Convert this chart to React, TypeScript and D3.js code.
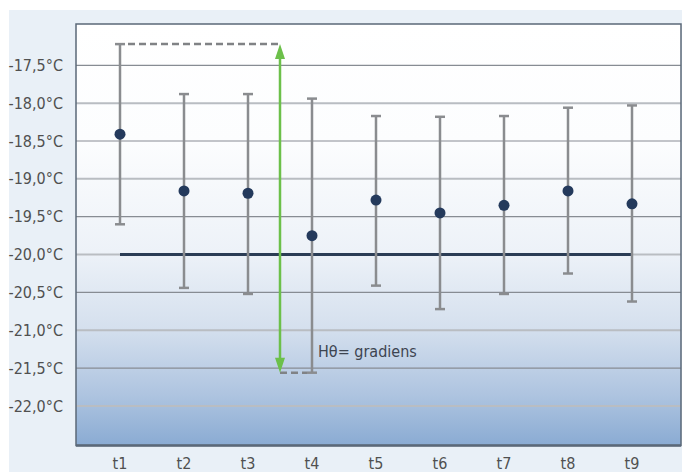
import React from 'react';
import * as d3 from 'd3';

const categories = ['t1', 't2', 't3', 't4', 't5', 't6', 't7', 't8', 't9'];
const means = [-18.41, -19.16, -19.19, -19.75, -19.28, -19.45, -19.35, -19.16, -19.33];
const upper = [-17.22, -17.88, -17.88, -17.94, -18.17, -18.18, -18.17, -18.06, -18.03];
const lower = [-19.6, -20.44, -20.52, -21.56, -20.41, -20.72, -20.52, -20.25, -20.62];
const yTicks = [-17.5, -18.0, -18.5, -19.0, -19.5, -20.0, -20.5, -21.0, -21.5, -22.0];
const refValue = -20.0;
const annotationText = 'Hθ= gradiens';

const W = 682;
const H = 472;
const plot = { left: 76, right: 681, top: 24, bottom: 445.5 };

const locale = d3.formatLocale({ decimal: ',', thousands: '.', grouping: [3], currency: ['', '€'], minus: '-' });
const fmt = locale.format('.1f');

const FONT = '"Liberation Sans Narrow", "DejaVu Sans Condensed", "Liberation Sans", sans-serif';

export default function App() {
  const y = d3.scaleLinear().domain([-22, -17.5]).range([406, 65.3]);
  const x = d3.scalePoint<string>().domain(categories).range([120, 632]);

  const i1 = 0; // t1 (max upper)
  const i4 = 3; // t4 (min lower)
  const arrowX = 280;
  const yTop = y(upper[i1]);
  const yBot = y(lower[i4]);
  const capW = 5;

  const line = d3.line<[number, number]>();

  return (
    <svg width={W} height={H} style={{ position: 'absolute', left: 0, top: 0, display: 'block' }}>
      <defs>
        <linearGradient id="bg" x1="0" y1="0" x2="0" y2="1">
          <stop offset="0%" stopColor="#ffffff" />
          <stop offset="28%" stopColor="#fcfdfe" />
          <stop offset="54%" stopColor="#edf2f8" />
          <stop offset="72%" stopColor="#d5e0ee" />
          <stop offset="88%" stopColor="#aec4e0" />
          <stop offset="100%" stopColor="#8aabd3" />
        </linearGradient>
      </defs>
      <rect x={9} y={10} width={W - 9} height={H - 10} fill="#e9f0f7" />
      <rect x={plot.left} y={plot.top} width={plot.right - plot.left} height={plot.bottom - plot.top} fill="url(#bg)" />
      {yTicks.map((t) => {
        const isInt = Math.abs(t - Math.round(t)) < 1e-9;
        return (
          <line key={t} x1={plot.left} x2={plot.right} y1={y(t)} y2={y(t)}
            stroke={isInt ? '#b9bdc2' : '#878c93'} strokeWidth={isInt ? 2 : 1.2} />
        );
      })}
      <rect x={plot.left} y={plot.top} width={plot.right - plot.left} height={plot.bottom - plot.top}
        fill="none" stroke="#5b6878" strokeWidth={1.5} />
      <line x1={plot.left} x2={plot.right} y1={plot.bottom} y2={plot.bottom} stroke="#5b6878" strokeWidth={2.5} />
      {yTicks.map((t) => (
        <text key={t} x={63} y={y(t)} dy="0.35em" textAnchor="end" fontFamily={FONT} fontSize={16} fill="#505050">
          {fmt(t) + '°C'}
        </text>
      ))}
      {categories.map((c) => (
        <text key={c} x={x(c)} y={469} textAnchor="middle" fontFamily={FONT} fontSize={16} fill="#505050">{c}</text>
      ))}
      {/* reference line */}
      <path d={line([[x(categories[0])!, y(refValue)], [x(categories[categories.length - 1])!, y(refValue)]]) || ''}
        stroke="#2b3d55" strokeWidth={3} fill="none" />
      {/* error bars */}
      {categories.map((c, i) => {
        const cx = x(c)!;
        return (
          <g key={c} stroke="#8a8c8f" strokeWidth={2.5} fill="none">
            <line x1={cx} x2={cx} y1={y(upper[i])} y2={y(lower[i])} />
            <line x1={cx - capW} x2={cx + capW} y1={y(upper[i])} y2={y(upper[i])} />
            <line x1={cx - capW} x2={cx + capW} y1={y(lower[i])} y2={y(lower[i])} />
          </g>
        );
      })}
      {/* dashed guides */}
      <line x1={x(categories[i1])! + capW + 3} x2={arrowX} y1={yTop} y2={yTop} stroke="#808285" strokeWidth={2.5} strokeDasharray="7 4" />
      <line x1={arrowX} x2={x(categories[i4])! - capW} y1={yBot} y2={yBot} stroke="#808285" strokeWidth={2.5} strokeDasharray="7 4" />
      {/* green arrow */}
      <line x1={arrowX} x2={arrowX} y1={yTop + 12} y2={yBot - 12} stroke="#6cc04a" strokeWidth={2.5} />
      <path d={`M${arrowX},${yTop} L${arrowX - 5},${yTop + 15} L${arrowX + 5},${yTop + 15} Z`} fill="#6cc04a" />
      <path d={`M${arrowX},${yBot} L${arrowX - 5},${yBot - 15} L${arrowX + 5},${yBot - 15} Z`} fill="#6cc04a" />
      {/* means */}
      {categories.map((c, i) => (
        <circle key={c} cx={x(c)} cy={y(means[i])} r={5.5} fill="#243a5c" />
      ))}
      <text x={318} y={357} fontFamily={FONT} fontSize={16} fill="#3d4450">{annotationText}</text>
    </svg>
  );
}
